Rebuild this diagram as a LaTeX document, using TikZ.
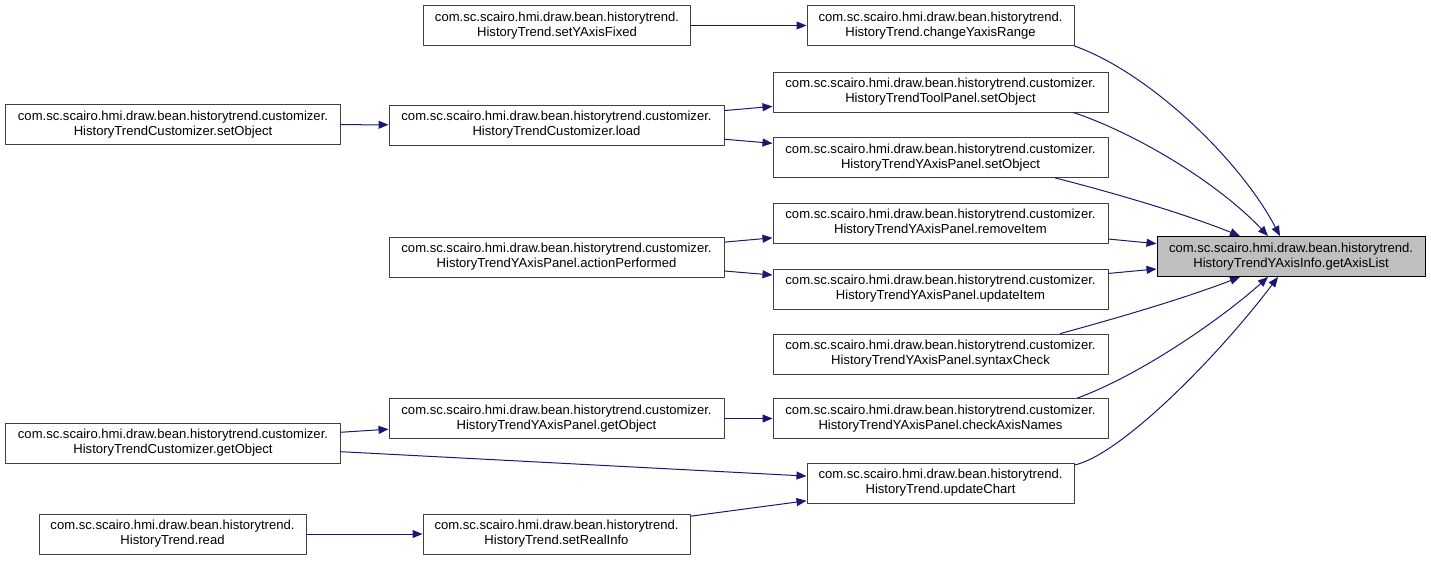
\documentclass[tikz,border=0pt]{standalone}
\usepackage{fontspec}
\setmainfont{Liberation Sans}
\usetikzlibrary{arrows.meta}

\definecolor{edgeblue}{HTML}{191970}
\definecolor{mainfill}{HTML}{BFBFBF}

\tikzset{
  fnbox/.style={draw=black!75, fill=white, line width=0.75pt, align=center, inner sep=0pt,
    minimum height=30pt, font=\fontsize{9.8pt}{11.25pt}\selectfont},
  widebox/.style={fnbox, minimum width=251.25pt},
  narrowbox/.style={fnbox, minimum width=200.25pt},
  call/.style={draw=edgeblue, line width=0.75pt, -{Triangle[length=7.5pt,width=6pt]}}
}

\begin{document}
\begin{tikzpicture}[x=0.75pt,y=-0.75pt,line cap=round,line join=round]
  \useasboundingbox (0,0) rectangle (1431,561);

  % called function
  \node[narrowbox, fill=mainfill, draw=black, minimum width=201pt] (axislist) at (1291,256.5)
    {com.sc.scairo.hmi.draw.bean.historytrend.\\HistoryTrendYAxisInfo.getAxisList};

  % direct callers
  \node[narrowbox] (chrange) at (940.5,25.5) {com.sc.scairo.hmi.draw.bean.historytrend.\\HistoryTrend.changeYaxisRange};
  \node[widebox] (toolset) at (940.5,92) {com.sc.scairo.hmi.draw.bean.historytrend.customizer.\\HistoryTrendToolPanel.setObject};
  \node[widebox] (yaxisset) at (940.5,157.5) {com.sc.scairo.hmi.draw.bean.historytrend.customizer.\\HistoryTrendYAxisPanel.setObject};
  \node[widebox] (removeitem) at (940.5,223) {com.sc.scairo.hmi.draw.bean.historytrend.customizer.\\HistoryTrendYAxisPanel.removeItem};
  \node[widebox] (updateitem) at (940.5,289) {com.sc.scairo.hmi.draw.bean.historytrend.customizer.\\HistoryTrendYAxisPanel.updateItem};
  \node[widebox] (syntax) at (940.5,354) {com.sc.scairo.hmi.draw.bean.historytrend.customizer.\\HistoryTrendYAxisPanel.syntaxCheck};
  \node[widebox] (checknames) at (940.5,418.5) {com.sc.scairo.hmi.draw.bean.historytrend.customizer.\\HistoryTrendYAxisPanel.checkAxisNames};
  \node[narrowbox] (updatechart) at (940.5,483) {com.sc.scairo.hmi.draw.bean.historytrend.\\HistoryTrend.updateChart};

  % second level
  \node[narrowbox] (setfixed) at (557,25.5) {com.sc.scairo.hmi.draw.bean.historytrend.\\HistoryTrend.setYAxisFixed};
  \node[widebox] (custload) at (556.5,125) {com.sc.scairo.hmi.draw.bean.historytrend.customizer.\\HistoryTrendCustomizer.load};
  \node[widebox] (action) at (556.5,257) {com.sc.scairo.hmi.draw.bean.historytrend.customizer.\\HistoryTrendYAxisPanel.actionPerformed};
  \node[widebox] (yaxisget) at (556.5,418.5) {com.sc.scairo.hmi.draw.bean.historytrend.customizer.\\HistoryTrendYAxisPanel.getObject};
  \node[narrowbox] (setreal) at (556.5,534) {com.sc.scairo.hmi.draw.bean.historytrend.\\HistoryTrend.setRealInfo};

  % third level
  \node[widebox] (custset) at (173,124.5) {com.sc.scairo.hmi.draw.bean.historytrend.customizer.\\HistoryTrendCustomizer.setObject};
  \node[widebox] (custget) at (173,443) {com.sc.scairo.hmi.draw.bean.historytrend.customizer.\\HistoryTrendCustomizer.getObject};
  \node[narrowbox] (readtrend) at (172.5,534) {com.sc.scairo.hmi.draw.bean.historytrend.\\HistoryTrend.read};

  % calls into getAxisList
  \draw[call] (chrange.south east) .. controls (1150,73) and (1240,160) .. ([shift={(-11,0)}]axislist.north);
  \draw[call] ([shift={(-35,0)}]toolset.south east) .. controls (1140,135) and (1220,185) .. ([shift={(-23,0)}]axislist.north);
  \draw[call] ([shift={(-53,0)}]yaxisset.south east) .. controls (1110,192) and (1180,212) .. ([shift={(-51,0)}]axislist.north);
  \draw[call] (removeitem) -- (axislist);
  \draw[call] (updateitem) -- (axislist);
  \draw[call] ([shift={(-48,0)}]syntax.north east) .. controls (1110,320) and (1180,300) .. ([shift={(-51,0)}]axislist.south);
  \draw[call] ([shift={(-31,0)}]checknames.north east) .. controls (1140,375) and (1220,320) .. ([shift={(-23,0)}]axislist.south);
  \draw[call] ([shift={(0,-18)}]updatechart.east) .. controls (1120,455) and (1215,360) .. ([shift={(-13,0)}]axislist.south);

  % remaining calls
  \draw[call] (setfixed) -- (chrange);
  \draw[call] (custload) -- (toolset);
  \draw[call] (custload) -- (yaxisset);
  \draw[call] (custset) -- (custload);
  \draw[call] (action) -- (removeitem);
  \draw[call] (action) -- (updateitem);
  \draw[call] (yaxisget) -- (checknames);
  \draw[call] (custget) -- (yaxisget);
  \draw[call] (custget) -- (updatechart);
  \draw[call] (setreal) -- (updatechart);
  \draw[call] (readtrend) -- (setreal);
\end{tikzpicture}
\end{document}
